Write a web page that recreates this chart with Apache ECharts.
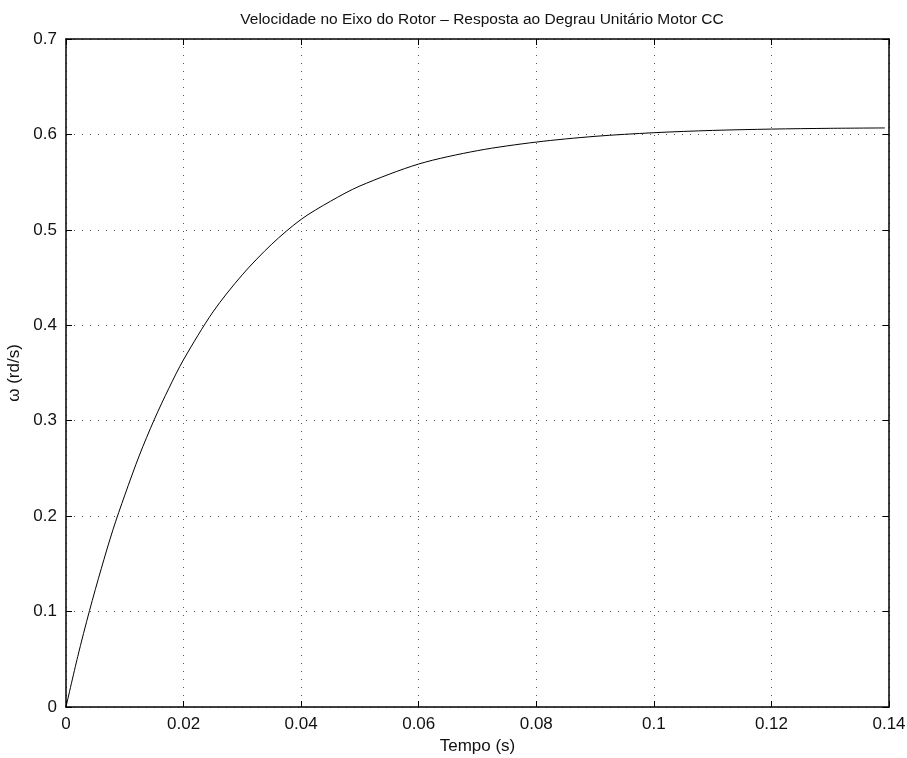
<!DOCTYPE html>
<html>
<head>
<meta charset="utf-8">
<script src="https://cdn.jsdelivr.net/npm/echarts@6/dist/echarts.min.js"></script>
<style>html,body{margin:0;padding:0;background:#fff;}#c{width:907px;height:758px;}</style>
</head>
<body>
<div id="c"></div>
<script>
var titleText = 'Velocidade no Eixo do Rotor \u2013 Resposta ao Degrau Unitário Motor CC';
var xName = 'Tempo (s)';
var yName = '\u03c9 (rd/s)';
var tempo = [0, 0.002, 0.004, 0.006, 0.008, 0.010, 0.0125, 0.015, 0.0175, 0.02, 0.025, 0.03, 0.035, 0.04, 0.045, 0.05, 0.06, 0.07, 0.08, 0.09, 0.10, 0.11, 0.12, 0.13, 0.1393];
var omega = [0, 0.053, 0.101, 0.145, 0.186, 0.222, 0.264, 0.301, 0.334, 0.364, 0.414, 0.453, 0.485, 0.511, 0.530, 0.546, 0.569, 0.583, 0.592, 0.598, 0.6018, 0.6042, 0.6056, 0.6064, 0.6068];
var xTicks = [0, 0.02, 0.04, 0.06, 0.08, 0.1, 0.12, 0.14];
var yTicks = [0, 0.1, 0.2, 0.3, 0.4, 0.5, 0.6, 0.7];

var data = tempo.map(function (t, i) { return [t, omega[i]]; });
var font = 'Liberation Sans, Arial, Helvetica, sans-serif';
function fmt(v) { return String(+v.toFixed(4)); }

var chart = echarts.init(document.getElementById('c'));
var axisLine = { onZero: false, lineStyle: { color: '#000', width: 1.5 } };
var tick = { inside: true, length: 6, lineStyle: { color: '#000', width: 1 } };
var grid = { show: true, lineStyle: { color: '#555', type: [1, 7], width: 1 } };
var labelStyle = { fontFamily: font, fontSize: 17, color: '#111', margin: 9, formatter: fmt };
var xBase = { type: 'value', min: xTicks[0], max: xTicks[xTicks.length - 1], interval: 0.02, axisLine: axisLine, axisTick: tick };
var yBase = { type: 'value', min: yTicks[0], max: yTicks[yTicks.length - 1], interval: 0.1, axisLine: axisLine, axisTick: tick };
chart.setOption({
  animation: false,
  backgroundColor: '#fff',
  title: {
    text: titleText, left: 477, top: 7, textAlign: 'center',
    textStyle: { fontFamily: font, fontSize: 15.5, fontWeight: 'normal', color: '#111' }
  },
  grid: { left: 66, right: 18, top: 39, bottom: 51, containLabel: false, outerBoundsMode: 'none' },
  xAxis: [
    Object.assign({}, xBase, {
      position: 'bottom',
      name: xName, nameLocation: 'middle', nameGap: 30,
      nameTextStyle: { fontFamily: font, fontSize: 17, color: '#111' },
      axisLabel: labelStyle,
      splitLine: grid
    }),
    Object.assign({}, xBase, { position: 'top', axisLabel: { show: false }, splitLine: { show: false } })
  ],
  yAxis: [
    Object.assign({}, yBase, {
      position: 'left',
      name: yName, nameLocation: 'middle', nameGap: 37,
      nameTextStyle: { fontFamily: font, fontSize: 17, color: '#111' },
      axisLabel: labelStyle,
      splitLine: grid
    }),
    Object.assign({}, yBase, { position: 'right', axisLabel: { show: false }, splitLine: { show: false } })
  ],
  series: [{
    type: 'line', data: data, smooth: 0.3, showSymbol: false, symbol: 'none',
    xAxisIndex: 0, yAxisIndex: 0,
    lineStyle: { color: '#000', width: 1 }
  }]
});
</script>
</body>
</html>
